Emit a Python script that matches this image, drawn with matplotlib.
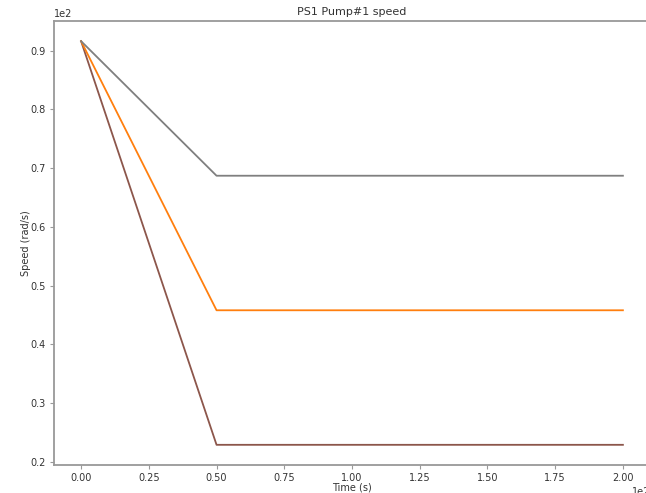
import matplotlib
matplotlib.use("Agg")
import matplotlib.pyplot as plt

time_s = [0, 50, 200]
speed_brown = [91.6, 22.9, 22.9]
speed_orange = [91.6, 45.8, 45.8]
speed_gray = [91.6, 68.7, 68.7]

fig = plt.figure(figsize=(6.46, 4.93), dpi=100)
ax = fig.add_axes([54/646, 28/493, (650-54)/646, (465-21)/493])

ax.plot(time_s, speed_brown, color='tab:brown', lw=1.3)
ax.plot(time_s, speed_orange, color='tab:orange', lw=1.3)
ax.plot(time_s, speed_gray, color='tab:gray', lw=1.3)

ax.ticklabel_format(style='sci', axis='both', scilimits=(2, 2))
ax.spines['right'].set_visible(False)
for s in ['left', 'bottom', 'top']:
    ax.spines[s].set_color('#999999')
    ax.spines[s].set_linewidth(1.3)
ax.tick_params(colors='#999999', labelcolor='#333333', labelsize=7, length=3.2, pad=2.5)
ax.xaxis.get_offset_text().set_fontsize(7)
ax.yaxis.get_offset_text().set_fontsize(7)
ax.xaxis.get_offset_text().set_color('#333333')
ax.yaxis.get_offset_text().set_color('#333333')

ax.set_xticks([0, 25, 50, 75, 100, 125, 150, 175, 200])
ax.set_title('PS1 Pump#1 speed', fontsize=8, color='#333333', pad=4)
ax.set_xlabel('Time (s)', fontsize=7, color='#333333', labelpad=0)
ax.set_ylabel('Speed (rad/s)', fontsize=7, color='#333333', labelpad=-0.5)

fig.savefig('out.png', dpi=100)
